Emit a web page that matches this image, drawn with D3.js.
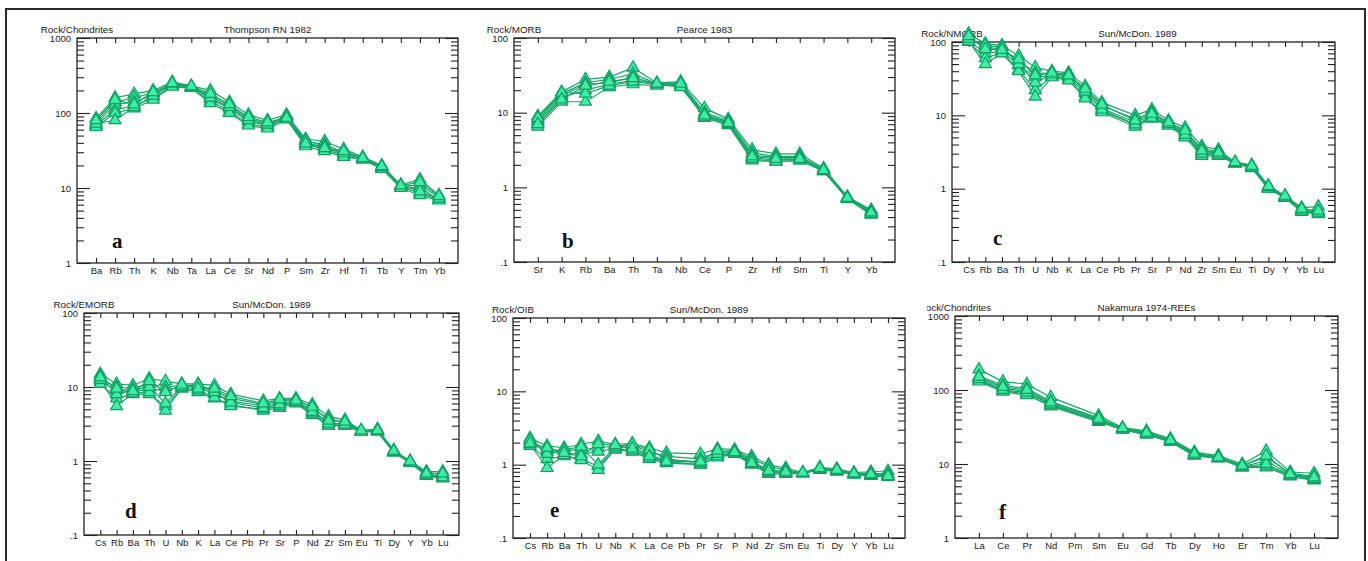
<!DOCTYPE html>
<html>
<head>
<meta charset="utf-8">
<title>Spider diagrams</title>
<script src="https://d3js.org/d3.v7.min.js"></script>
<style>
	body { margin: 0; background: #fff; }
	svg { display: block; font-family: "Liberation Sans", Arial, sans-serif; }
	.axis text { font-size: 9.5px; fill: #222; }
	.axis line { stroke: #222; stroke-width: 1.1; }
	.axis .domain { display: none; }
	.frame { fill: none; stroke: #222; stroke-width: 1.3; }
	.lbl { font-size: 9.8px; fill: #222; }
	.letter { font-family: "Liberation Serif", "Times New Roman", serif; font-weight: bold; font-size: 21px; fill: #111; }
	.sample { fill: none; stroke: #17a868; stroke-width: 1.2; }
	.mark { fill: #40eca8; stroke: #12a062; stroke-width: 1.2; }
</style>
</head>
<body>
<div id="chart"></div>
<script>
// ---- data ----

// a: chondrite normalised, Thompson 1982
var catsA = ["Ba","Rb","Th","K","Nb","Ta","La","Ce","Sr","Nd","P","Sm","Zr","Hf","Ti","Tb","Y","Tm","Yb"];
var samplesA = [
	[85,160,180,200,260,230,200,140,95,80,95,45,42,33,26,20,11,13,8],
	[75,140,160,185,240,225,170,125,85,72,90,42,38,30,25,19,10.5,11,7.5],
	[70,130,140,175,235,220,155,115,78,68,88,40,35,28,25,19,10.5,10,7],
	[68,110,125,160,230,215,145,105,72,65,85,38,33,27,24,18.5,10.5,8.5,7],
	[65,100,115,150,225,215,135,100,68,62,82,36,31,26,24,18,10,8,6.8],
	[72,80,120,170,245,225,160,120,80,70,92,43,36,29,25,19,11,9,7.2],
	[80,150,130,190,250,228,180,130,88,75,86,39,34,31,25,19.5,10.8,12,7.8]
];

// b: MORB normalised, Pearce 1983
var catsB = ["Sr","K","Rb","Ba","Th","Ta","Nb","Ce","P","Zr","Hf","Sm","Ti","Y","Yb"];
var samplesB = [
	[9,19,28,30,40,25,26,11.5,8.2,3.2,2.8,2.8,1.8,0.75,0.5],
	[8,18,25,28,33,24.5,25,10,7.8,2.9,2.6,2.6,1.75,0.73,0.48],
	[7.5,17,24,25,30,24,24,9.5,7.5,2.7,2.5,2.5,1.7,0.72,0.47],
	[7,16,20,24,27,24,23.5,9,7.2,2.5,2.3,2.4,1.7,0.7,0.45],
	[6.5,14,14,22,24,23,23,8.5,6.8,2.3,2.2,2.3,1.65,0.7,0.43],
	[8.5,18.5,18,23,26,24,22,8.8,7,2.4,2.2,2.3,1.65,0.71,0.44],
	[7,15,23,26,29,24.5,24.5,9.2,7.3,2.6,2.4,2.4,1.7,0.72,0.46]
];

// c, d, e: Sun & McDonough 1989 (Pb not analysed)
var catsSM = ["Cs","Rb","Ba","Th","U","Nb","K","La","Ce","Pb","Pr","Sr","P","Nd","Zr","Sm","Eu","Ti","Dy","Y","Yb","Lu"];
var samplesC = [
	[130,95,90,65,45,40,38,25,15,null,10,12,8.5,6.8,3.8,3.4,2.3,2.1,1.1,0.8,0.55,0.57],
	[115,85,80,55,38,37,36,22,13.5,null,9,11,8,6,3.5,3.2,2.25,2.05,1.05,0.78,0.52,0.5],
	[105,70,75,48,33,35,34,20,12.5,null,8,10,7.8,5.6,3.2,3,2.2,2,1.02,0.77,0.5,0.48],
	[100,60,72,42,22,34,32,18,11.5,null,7.5,9.5,7.5,5.2,3,2.9,2.2,1.95,1,0.75,0.49,0.46],
	[102,50,70,40,18,33,30,17,11,null,7,9,7.2,5,2.8,2.8,2.2,1.9,1,0.75,0.48,0.45],
	[110,90,85,50,28,36,37,21,12,null,7.5,9.2,7.6,5.4,3,2.9,2.25,2,1.05,0.78,0.5,0.47],
	[120,80,78,58,35,38,35,23,14,null,8.5,10.5,8,6.2,3.3,3.1,2.3,2.05,1.08,0.8,0.53,0.5]
];
var samplesD = [
	[15,11,10.5,13,12,11,11,10.5,8,null,6.5,7,7,5.8,4,3.6,2.6,2.7,1.4,1.0,0.72,0.72],
	[13,10,9.5,11,10,10.5,10.5,9,7,null,5.8,6.5,6.8,5.2,3.7,3.3,2.55,2.6,1.38,0.98,0.7,0.65],
	[12,9,8.5,9.5,9,10,10,8,6.5,null,5.5,6,6.5,4.8,3.3,3.1,2.5,2.55,1.35,0.97,0.66,0.62],
	[11,7,8,8,5.5,9.5,8.5,7,5.8,null,4.8,5.2,6,4.2,3,3,2.5,2.5,1.3,0.95,0.63,0.58],
	[12.5,5.5,8.2,8.5,4.8,9.8,9,7.2,5.5,null,5,5.5,6.2,4.4,3,3,2.5,2.5,1.3,0.95,0.64,0.6],
	[14,8,9,10,6,10.2,10.8,8.5,6.2,null,5.2,5.8,6.3,4.6,3.2,3.1,2.5,2.55,1.33,0.96,0.65,0.6],
	[13.5,9.5,8.8,12,8.5,10.8,9.5,9.5,7.5,null,6,6.8,6.6,5.4,3.5,3.4,2.6,2.6,1.37,0.99,0.68,0.68]
];
var samplesE = [
	[2.3,1.8,1.7,1.9,2.1,1.9,1.95,1.7,1.45,null,1.4,1.65,1.6,1.3,1.0,0.9,0.78,0.92,0.88,0.78,0.8,0.82],
	[2.1,1.6,1.55,1.6,1.7,1.8,1.85,1.5,1.3,null,1.2,1.5,1.55,1.2,0.95,0.85,0.77,0.9,0.86,0.76,0.76,0.75],
	[2.0,1.5,1.4,1.4,1.5,1.7,1.75,1.35,1.15,null,1.1,1.35,1.45,1.1,0.85,0.8,0.77,0.88,0.84,0.75,0.73,0.72],
	[1.8,1.2,1.3,1.2,0.95,1.6,1.5,1.2,1.05,null,1.0,1.25,1.4,1.0,0.75,0.75,0.76,0.85,0.8,0.73,0.7,0.68],
	[1.9,0.9,1.35,1.15,0.85,1.65,1.55,1.25,1.1,null,1.0,1.3,1.42,1.02,0.78,0.76,0.76,0.86,0.82,0.74,0.71,0.7],
	[2.2,1.4,1.6,1.75,1.0,1.75,1.9,1.6,1.2,null,1.05,1.4,1.5,1.15,0.8,0.78,0.77,0.87,0.83,0.75,0.72,0.7],
	[1.95,1.7,1.45,1.3,1.9,1.85,1.65,1.3,1.1,null,1.1,1.55,1.48,1.05,0.82,0.8,0.78,0.9,0.85,0.76,0.74,0.7]
];

// f: REE, Nakamura 1974 (Pm not analysed)
var catsF = ["La","Ce","Pr","Nd","Pm","Sm","Eu","Gd","Tb","Dy","Ho","Er","Tm","Yb","Lu"];
var samplesF = [
	[190,130,120,80,null,45,31,28,22,14.5,13,10,15,7.8,7.5],
	[155,115,105,70,null,42,30,27,21,14,12.5,9.5,12.5,7.5,6.8],
	[145,105,95,65,null,40,30,26,21,13.5,12.2,9.2,11,7.2,6.5],
	[135,98,88,60,null,37,29,25,20,13,12,9,9,6.8,6],
	[130,95,85,62,null,38,29,25,20,13,12,9,9.5,6.9,6.1],
	[140,100,92,64,null,39,30,25.5,20.5,13.2,12,9.3,10,7,6.3],
	[150,110,100,68,null,41,30.5,26.5,21,13.8,12.3,9.5,13,7.3,6.6]
];

// y tick values and their printed labels
var yTicksHigh = [1,10,100,1000];
var yLabelsHigh = ["1","10","100","1000"];
var yTicksLow = [0.1,1,10,100];
var yLabelsLow = [".1","1","10","100"];

// ---- layout ----
var panels = [
	{cats: catsA, rows: samplesA, ticks: yTicksHigh, labels: yLabelsHigh, yTitle: "Rock/Chondrites", title: "Thompson RN 1982", letter: "a",
	 l: 77, t: 38, r: 458, b: 263, lx: 112, ly: 248},
	{cats: catsB, rows: samplesB, ticks: yTicksLow, labels: yLabelsLow, yTitle: "Rock/MORB", title: "Pearce 1983", letter: "b",
	 l: 514, t: 38, r: 895, b: 262, lx: 562, ly: 248},
	{cats: catsSM, rows: samplesC, ticks: yTicksLow, labels: yLabelsLow, yTitle: "Rock/NMORB", title: "Sun/McDon. 1989", letter: "c",
	 l: 952, t: 42, r: 1335, b: 262, lx: 993, ly: 245, tdx: -6},
	{cats: catsSM, rows: samplesD, ticks: yTicksLow, labels: yLabelsLow, yTitle: "Rock/EMORB", title: "Sun/McDon. 1989", letter: "d",
	 l: 84, t: 313, r: 459, b: 535, lx: 125, ly: 518},
	{cats: catsSM, rows: samplesE, ticks: yTicksLow, labels: yLabelsLow, yTitle: "Rock/OIB", title: "Sun/McDon. 1989", letter: "e",
	 l: 513, t: 318, r: 905, b: 538, lx: 550, ly: 517},
	{cats: catsF, rows: samplesF, ticks: yTicksHigh, labels: yLabelsHigh, yTitle: "Rock/Chondrites", title: "Nakamura 1974-REEs", letter: "f",
	 l: 955, t: 316, r: 1338, b: 538, lx: 999, ly: 519, clip: [927, 280, 440, 281]}
];

var W = 1368, H = 561;

var svg = d3.select("#chart").append("svg")
	.attr("width", W)
	.attr("height", H);

var defs = svg.append("defs");

// outer frame of the figure (no bottom edge)
svg.append("path")
	.attr("d", "M6," + H + "V9H1365V" + H)
	.attr("fill", "none")
	.attr("stroke", "#2a2a2a")
	.attr("stroke-width", 2);

panels.forEach(function(p, k) {
	var g = svg.append("g");
	if (p.clip) {
		defs.append("clipPath").attr("id", "clip" + k)
			.append("rect")
			.attr("x", p.clip[0]).attr("y", p.clip[1])
			.attr("width", p.clip[2]).attr("height", p.clip[3]);
		g.attr("clip-path", "url(#clip" + k + ")");
	}

	var x = d3.scalePoint().domain(p.cats).range([p.l, p.r]).padding(1);
	var y = d3.scaleLog().domain([p.ticks[0], p.ticks[p.ticks.length - 1]]).range([p.b, p.t]);
	var minor = y.ticks().filter(function(v) { return p.ticks.indexOf(v) < 0; });

	// bottom axis with element names, ticks pointing in
	g.append("g")
		.attr("class", "axis")
		.attr("transform", "translate(0," + p.b + ")")
		.call(d3.axisBottom(x).tickSizeInner(-5).tickSizeOuter(0).tickPadding(4));

	// top axis, ticks only
	g.append("g")
		.attr("class", "axis")
		.attr("transform", "translate(0," + p.t + ")")
		.call(d3.axisTop(x).tickSizeInner(-5).tickSizeOuter(0).tickFormat(""));

	// left axis: decades labelled, minor ticks shorter
	g.append("g")
		.attr("class", "axis")
		.attr("transform", "translate(" + p.l + ",0)")
		.call(d3.axisLeft(y).tickValues(p.ticks).tickSizeInner(-13).tickSizeOuter(0).tickPadding(6)
			.tickFormat(function(d, i) { return p.labels[i]; }));
	g.append("g")
		.attr("class", "axis")
		.attr("transform", "translate(" + p.l + ",0)")
		.call(d3.axisLeft(y).tickValues(minor).tickSizeInner(-7).tickSizeOuter(0).tickFormat(""));

	// right axis
	g.append("g")
		.attr("class", "axis")
		.attr("transform", "translate(" + p.r + ",0)")
		.call(d3.axisRight(y).tickValues(p.ticks).tickSizeInner(-13).tickSizeOuter(0).tickFormat(""));
	g.append("g")
		.attr("class", "axis")
		.attr("transform", "translate(" + p.r + ",0)")
		.call(d3.axisRight(y).tickValues(minor).tickSizeInner(-7).tickSizeOuter(0).tickFormat(""));

	g.append("rect")
		.attr("class", "frame")
		.attr("x", p.l).attr("y", p.t)
		.attr("width", p.r - p.l).attr("height", p.b - p.t);

	g.append("text")
		.attr("class", "lbl")
		.attr("x", p.l).attr("y", p.t - 5.5)
		.attr("text-anchor", "middle")
		.text(p.yTitle);

	g.append("text")
		.attr("class", "lbl")
		.attr("x", (p.l + p.r) / 2 + (p.tdx || 0)).attr("y", p.t - 5.5)
		.attr("text-anchor", "middle")
		.text(p.title);

	g.append("text")
		.attr("class", "letter")
		.attr("x", p.lx).attr("y", p.ly)
		.text(p.letter);

	// samples: gaps (null) are bridged, as in the original
	var pts = p.rows.map(function(row) {
		return row.map(function(v, i) { return {c: p.cats[i], v: v}; })
			.filter(function(d) { return d.v != null; });
	});

	var line = d3.line()
		.x(function(d) { return x(d.c); })
		.y(function(d) { return y(d.v); });

	g.append("g").selectAll("path")
		.data(pts)
		.join("path")
		.attr("class", "sample")
		.attr("d", line);

	var tri = d3.symbol().type(d3.symbolTriangle).size(62);
	g.append("g").selectAll("g")
		.data(pts)
		.join("g")
		.selectAll("path")
		.data(function(d) { return d; })
		.join("path")
		.attr("class", "mark")
		.attr("transform", function(d) { return "translate(" + x(d.c) + "," + y(d.v) + ")"; })
		.attr("d", tri);
});
</script>
</body>
</html>
